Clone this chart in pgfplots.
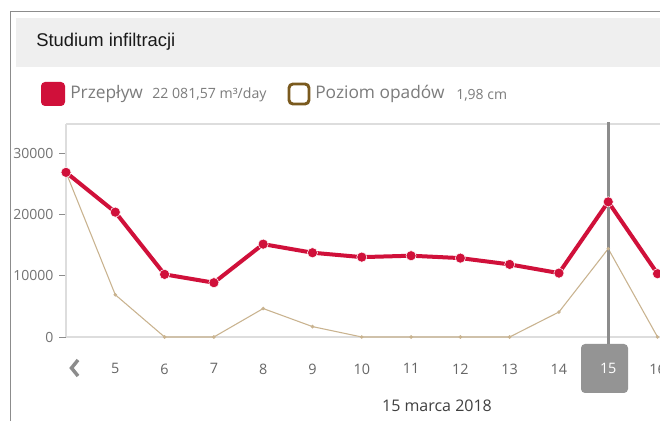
\documentclass[border=0pt]{standalone}
\usepackage{pgfplots}
\pgfplotsset{compat=1.18}
\usepackage{fontspec}
\setmainfont{Open Sans}
\newfontfamily\titlefont{Liberation Sans}
\definecolor{fred}{HTML}{D0103A}
\definecolor{fbeige}{HTML}{C9B38F}
\definecolor{fbrown}{HTML}{7A5A1E}
\definecolor{fgrid}{HTML}{DDDDDD}
\definecolor{ftext}{HTML}{7C7C7C}
\definecolor{fband}{HTML}{EFEFEF}
\begin{document}
\begin{tikzpicture}[x=0.75pt,y=0.75pt]
\useasboundingbox (0,0) rectangle (660,421);
\clip (0,0) rectangle (660,421);
\fill[white] (0,0) rectangle (660,421);
% outer frame
\draw[color=black!45, line width=0.75pt] (10.5,0) -- (10.5,409.5) -- (660,409.5);
% header band
\fill[fband] (16,354) rectangle (660,403);
\node[anchor=west, inner sep=0pt, font=\titlefont\fontsize{13.8}{15}\selectfont, text=black!90] at (36,379) {Studium infiltracji};
% legend
\fill[fred, rounded corners=3pt] (41,315) rectangle (65,339);
\node[anchor=west, inner sep=0pt, font=\fontsize{13}{15}\selectfont, text=ftext] at (70,327) {Przepływ};
\node[anchor=west, inner sep=0pt, font=\fontsize{10.6}{12}\selectfont, text=ftext] at (152,326) {22 081,57 m³/day};
\draw[fbrown, line width=2.2pt, rounded corners=3pt] (289,317) rectangle (309,337);
\node[anchor=west, inner sep=0pt, font=\fontsize{13}{15}\selectfont, text=ftext] at (315,327) {Poziom opadów};
\node[anchor=west, inner sep=0pt, font=\fontsize{10.5}{12}\selectfont, text=ftext] at (456,326) {1,98 cm};
% highlighted tick box
\fill[black!42, rounded corners=3pt] (581,28) rectangle (628,77);
% chevron
\draw[black!45, line width=2.6pt] (78,61) -- (71.5,53) -- (78,45);
% date label
\node[inner sep=0pt, font=\fontsize{12}{14}\selectfont, text=black!75] at (437,15) {15 marca 2018};
\begin{axis}[
  at={(49.5pt,63pt)}, anchor=south west,
  scale only axis,
  width=445.5pt, height=159.75pt,
  xmin=4, xmax=16.05, ymin=0, ymax=34800,
  axis line style={fgrid, line width=1.1pt},
  axis x line*=bottom, axis y line*=left,
  xtick={5,...,16},
  xticklabels={5,6,7,8,9,10,11,12,13,14,{\textcolor{white}{15}},16},
  x tick style={draw=none},
  xticklabel style={font=\fontsize{10.8}{12}\selectfont, text=black!60, yshift=-11.5pt},
  ytick={0,10000,20000,30000},
  y tick style={draw=black!45, line width=0.6pt},
  tick align=outside, major tick length=5pt,
  yticklabel style={font=\fontsize{10.5}{12}\selectfont, text=black!55, xshift=-1pt},
  scaled y ticks=false,
  /pgf/number format/assume math mode=true,
  /pgf/number format/1000 sep={},
  clip=false,
]
\draw[fgrid, line width=1.1pt] (axis cs:4,34800) -- (axis cs:16.05,34800);
\addplot[fbeige, line width=0.8pt, mark=*, mark size=0.9pt, mark options={fill=fbeige, draw=fbeige}] coordinates {
(4,26900) (5,6900) (6,0) (7,0) (8,4650) (9,1700) (10,0) (11,0) (12,0) (13,0) (14,4080) (15,14420) (16,0)
};
\addplot[fred, line width=3pt, mark=*, mark size=3.8pt, mark options={fill=fred, draw=white, line width=0.4pt}] coordinates {
(4,26900) (5,20400) (6,10230) (7,8870) (8,15170) (9,13770) (10,13050) (11,13280) (12,12890) (13,11860) (14,10440) (15,22082) (16,10340)
};
\draw[black!45, line width=2pt] (axis cs:15,35100) -- (axis cs:15,-1200);
\end{axis}
\end{tikzpicture}
\end{document}
